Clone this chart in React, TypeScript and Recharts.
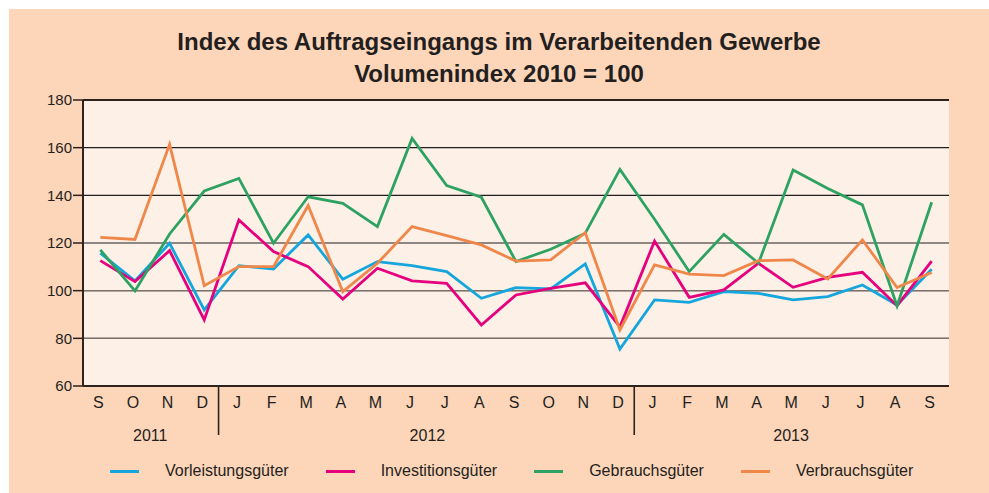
import React from 'react';
import { LineChart, Line, XAxis, YAxis, CartesianGrid, ReferenceLine, Legend } from 'recharts';

// months from Sep 2011 to Sep 2013
const MONTHS = ['S', 'O', 'N', 'D', 'J', 'F', 'M', 'A', 'M', 'J', 'J', 'A', 'S', 'O', 'N', 'D', 'J', 'F', 'M', 'A', 'M', 'J', 'J', 'A', 'S'];
const YEAR_LABELS = ['2011', '2012', '2013'];
const YEAR_MONTH_COUNTS = [4, 12, 9];
const Y_TICKS = [60, 80, 100, 120, 140, 160, 180];

const VORLEISTUNG = [115.7, 104.1, 119.9, 91.9, 110.5, 109.1, 123.4, 104.8, 112.2, 110.5, 108.0, 96.8, 101.3, 100.7, 111.2, 75.5, 96.1, 95.1, 99.6, 98.9, 96.1, 97.5, 102.4, 94.0, 109.0];
const INVESTITION = [112.6, 103.8, 116.8, 87.7, 129.7, 116.4, 110.1, 96.5, 109.4, 104.1, 103.1, 85.6, 98.2, 101.0, 103.3, 84.8, 120.8, 97.2, 100.3, 111.5, 101.4, 105.6, 107.7, 93.7, 112.4];
const GEBRAUCH = [117.1, 99.9, 123.8, 141.8, 147.1, 119.9, 139.4, 136.6, 126.9, 163.9, 144.1, 139.2, 112.2, 117.4, 124.1, 150.9, 130.0, 108.0, 123.6, 111.5, 150.6, 142.9, 136.0, 93.6, 137.1];
const VERBRAUCH = [122.4, 121.5, 161.4, 102.1, 110.1, 110.1, 135.7, 99.6, 111.5, 126.9, 123.1, 119.2, 112.4, 112.9, 124.3, 83.5, 110.8, 106.9, 106.3, 112.6, 112.9, 104.9, 121.3, 101.3, 107.6];

const SERIES = [
  { key: 'vorleistung', name: 'Vorleistungsgüter', color: '#14a6dc', values: VORLEISTUNG },
  { key: 'investition', name: 'Investitionsgüter', color: '#e5007d', values: INVESTITION },
  { key: 'gebrauch', name: 'Gebrauchsgüter', color: '#2ea263', values: GEBRAUCH },
  { key: 'verbrauch', name: 'Verbrauchsgüter', color: '#f0874a', values: VERBRAUCH },
];

const TEXT = '#231f20';
const AXIS = '#2e221c';

const CHART_W = 980;
const CHART_H = 484;
const PLOT_LEFT = 74;
const PLOT_RIGHT = 940;
const STEP = (PLOT_RIGHT - PLOT_LEFT) / MONTHS.length;

const data = MONTHS.map((m, i) => {
  const row: Record<string, string | number> = { period: `p${i}` };
  SERIES.forEach(s => {
    row[s.key] = s.values[i];
  });
  return row;
});

// first month index of each year
const yearStarts = YEAR_MONTH_COUNTS.map((_, i) => YEAR_MONTH_COUNTS.slice(0, i).reduce((a, b) => a + b, 0));

const MonthTick = (props: any) => {
  const { x, y } = props;
  const index = props.index ?? props.payload?.index ?? 0;
  const yearIdx = yearStarts.indexOf(index);
  const isYearEnd = yearStarts.includes(index + 1);

  return (
    <g>
      <text x={x - 2} y={y + 22} textAnchor="middle" fontSize={16} fill={TEXT}>
        {MONTHS[index]}
      </text>
      {isYearEnd && (
        <line x1={x + STEP / 2 - 3} x2={x + STEP / 2 - 3} y1={y} y2={y + 49} stroke={AXIS} strokeWidth={1.6} />
      )}
      {yearIdx >= 0 && (
        <text
          x={x + ((YEAR_MONTH_COUNTS[yearIdx] - 1) / 2) * STEP - 2}
          y={y + 55}
          textAnchor="middle"
          fontSize={16}
          fill={TEXT}
        >
          {YEAR_LABELS[yearIdx]}
        </text>
      )}
    </g>
  );
};

const renderLegend = () => (
  <div style={{ display: 'flex', alignItems: 'center', height: 20, paddingLeft: 101 }}>
    {SERIES.map(s => (
      <div key={s.key} style={{ display: 'flex', alignItems: 'center', marginRight: 37 }}>
        <span style={{ display: 'inline-block', width: 29, height: 3, background: s.color, marginRight: 26 }} />
        <span style={{ fontSize: 16, lineHeight: '20px', color: TEXT }}>{s.name}</span>
      </div>
    ))}
  </div>
);

// lines drawn in this order so orange sits over magenta at the lows
const DRAW_ORDER = ['vorleistung', 'investition', 'gebrauch', 'verbrauch'];

export default function App() {
  return (
    <div
      style={{
        position: 'absolute',
        left: 9,
        top: 9,
        width: CHART_W,
        height: CHART_H,
        background: '#fdd5b9',
        fontFamily: '"Liberation Sans", Arial, sans-serif',
      }}
    >
      <div
        style={{
          position: 'absolute',
          top: 16.5,
          left: 0,
          width: CHART_W,
          textAlign: 'center',
          fontSize: 24,
          fontWeight: 'bold',
          lineHeight: '32px',
          color: TEXT,
        }}
      >
        <div>Index des Auftragseingangs im Verarbeitenden Gewerbe</div>
        <div>Volumenindex 2010 = 100</div>
      </div>
      <LineChart width={CHART_W} height={CHART_H} data={data} margin={{ top: 91, right: CHART_W - PLOT_RIGHT, bottom: 47, left: 0 }}>
        <CartesianGrid vertical={false} stroke={TEXT} strokeWidth={1.2} fill="#fdf0e6" />
        <ReferenceLine y={100} stroke="#7e716a" strokeWidth={1.4} />
        <ReferenceLine y={80} stroke="#7e716a" strokeWidth={1.4} />
        <ReferenceLine y={180} stroke={AXIS} strokeWidth={2} />
        <XAxis
          dataKey="period"
          height={60}
          interval={0}
          padding={{ left: STEP / 2, right: STEP / 2 }}
          tickLine={false}
          tickSize={0}
          tickMargin={0}
          axisLine={{ stroke: AXIS, strokeWidth: 2 }}
          tick={(p: any) => <MonthTick {...p} />}
        />
        <YAxis
          width={PLOT_LEFT}
          domain={[60, 180]}
          ticks={Y_TICKS}
          interval={0}
          tickSize={10}
          tickMargin={1}
          tick={{ fontSize: 15, fill: TEXT }}
          tickLine={{ stroke: AXIS, strokeWidth: 1.5 }}
          axisLine={{ stroke: AXIS, strokeWidth: 2 }}
        />
        <YAxis
          yAxisId="right"
          orientation="right"
          width={0}
          domain={[60, 180]}
          tick={false}
          tickLine={false}
          axisLine={{ stroke: AXIS, strokeWidth: 2 }}
        />
        {DRAW_ORDER.map(k => {
          const s = SERIES.find(x => x.key === k)!;
          return (
            <Line
              key={s.key}
              type="linear"
              dataKey={s.key}
              name={s.name}
              stroke={s.color}
              strokeWidth={2.8}
              dot={false}
              activeDot={false}
              isAnimationActive={false}
            />
          );
        })}
        <Legend
          verticalAlign="middle"
          align="center"
          layout="horizontal"
          wrapperStyle={{ top: 452, left: 0, width: CHART_W, height: 20 }}
          content={renderLegend}
        />
      </LineChart>
    </div>
  );
}
